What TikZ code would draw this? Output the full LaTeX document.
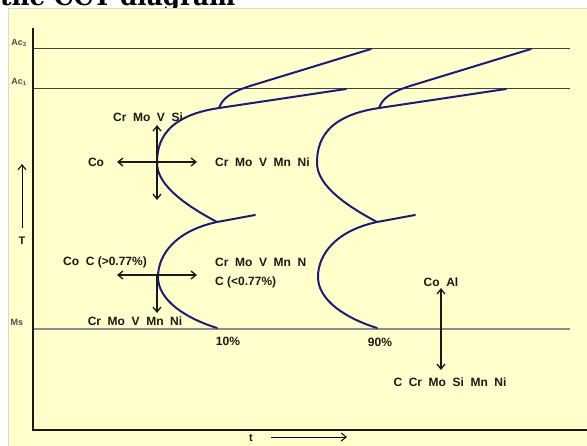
\documentclass[tikz,border=0pt]{standalone}
\usepackage{fontspec}
\setmainfont{Liberation Sans}
\newfontfamily\titlefont{DejaVu Serif}
\usetikzlibrary{arrows.meta}
\definecolor{panel}{RGB}{255,255,204}
\definecolor{curveblue}{RGB}{28,28,122}
\definecolor{ink}{RGB}{25,25,25}
\newcommand\gp{\hspace{0.55em}}
\tikzset{
  lbl/.style={font=\bfseries\fontsize{12}{14}\selectfont, text=ink, inner sep=0pt},
  axlbl/.style={font=\bfseries\fontsize{9}{10}\selectfont, text=black!70, inner sep=0pt},
  comp/.style={line width=1.3pt, draw=ink},
  thinarrow/.style={line width=1pt, draw=black},
  ccurve/.style={line width=2pt, draw=curveblue, line cap=round, line join=round},
  level/.style={line width=0.8pt, draw=black!75},
  mslevel/.style={line width=1.1pt, draw=black!45},
  axisline/.style={line width=2.2pt, draw=black!90},
}
\newcommand\cctcurve{%
  \draw[ccurve] (371,49) -- (250,86) .. controls (228,93) and (222,100) .. (219,108);
  \draw[ccurve] (346,89) -- (219,108) .. controls (165,116) and (157,142) .. (157,163)
     .. controls (157,185) and (185,205) .. (217,222);
  \draw[ccurve] (255,215) -- (217,222) .. controls (175,231) and (158,255) .. (158,277)
     .. controls (158,300) and (185,318) .. (217,328);
}
\begin{document}
\begin{tikzpicture}[x=1pt,y=-1pt, >={Straight Barb[length=5pt,width=8pt]}]
\useasboundingbox (0,0) rectangle (587,445);
\clip (0,0) rectangle (587,445);
\fill[white] (0,0) rectangle (587,445);
% title (cut off at the top, as in the reference)
\node[anchor=base west, inner sep=0pt] (title) at (0,5)
  {\resizebox{235pt}{!}{\titlefont\bfseries the CCT diagram}};
% panel
\draw[fill=panel, draw=black!15] (8,8) rectangle (600,460);
% level lines
\draw[level] (33,48) -- (570,48);
\draw[level] (33,88) -- (570,88);
\draw[mslevel] (33,329) -- (570,329);
% axes
\draw[axisline] (33,28) -- (33,430) -- (590,430);
% axis labels
\node[axlbl] (ac3) at (19,43) {Ac\textsubscript{3}};
\node[axlbl] (ac1) at (19,82) {Ac\textsubscript{1}};
\node[axlbl] (ms) at (17,322) {Ms};
\node[lbl, font=\bfseries\fontsize{11}{12}\selectfont] (T) at (22,241) {T};
\node[lbl, font=\bfseries\fontsize{11}{12}\selectfont] (t) at (251,438) {t};
\coordinate (Ta) at (22,228);
\coordinate (Tb) at (22,164);
\draw[thinarrow,->] (Ta) -- (Tb);
\coordinate (ta) at (271,437);
\coordinate (tb) at (347,437);
\draw[thinarrow,->] (ta) -- (tb);
% curves
\cctcurve
\begin{scope}[xshift=160pt]
\cctcurve
\end{scope}
% upper composition cross
\node[lbl] (crmovsi) at (148,117) {Cr\gp Mo\gp V\gp Si};
\node[lbl] (co1) at (96,162) {Co};
\node[lbl, anchor=west] (crmovmnni1) at (215,162) {Cr\gp Mo\gp V\gp Mn\gp Ni};
\coordinate (h1a) at (117,162);
\coordinate (h1b) at (197,162);
\coordinate (v1a) at (157,125);
\coordinate (v1b) at (157,200);
\draw[comp,<->] (h1a) -- (h1b);
\draw[comp,<->] (v1a) -- (v1b);
% lower composition cross
\node[lbl] (coc) at (105,262) {Co\gp C (>0.77\%)};
\node[lbl, anchor=west] (crmovmnn) at (215,262) {Cr\gp Mo\gp V\gp Mn\gp N};
\node[lbl, anchor=west] (cless) at (215,282) {C (<0.77\%)};
\node[lbl] (crmovmnni2) at (135,321) {Cr\gp Mo\gp V\gp Mn\gp Ni};
\coordinate (h2a) at (117,275);
\coordinate (h2b) at (197,275);
\coordinate (v2a) at (157,275);
\coordinate (v2b) at (157,313);
\draw[comp,<->] (h2a) -- (h2b);
\draw[comp,->] (v2a) -- (v2b);
% percentages
\node[lbl] (p10) at (228,341) {10\%};
\node[lbl] (p90) at (380,342) {90\%};
% Ms composition
\node[lbl] (coal) at (441,282) {Co\gp Al};
\node[lbl] (ccrmo) at (450,382) {C\gp Cr\gp Mo\gp Si\gp Mn\gp Ni};
\coordinate (v3a) at (441,288);
\coordinate (v3b) at (441,370);
\draw[comp,<->] (v3a) -- (v3b);
\end{tikzpicture}
\end{document}
